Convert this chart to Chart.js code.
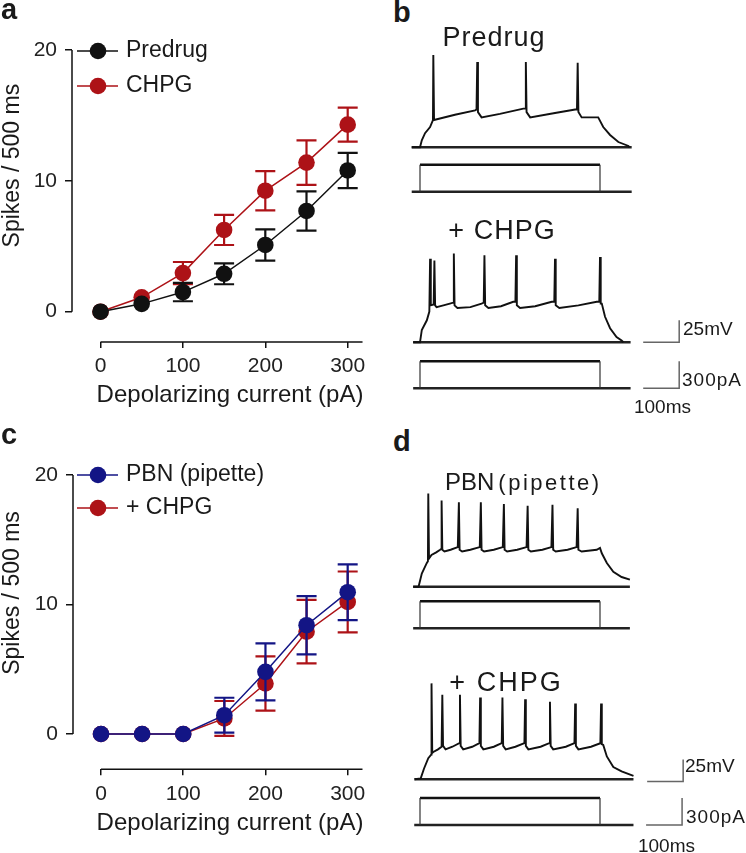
<!DOCTYPE html>
<html>
<head>
<meta charset="utf-8">
<script src="https://cdn.jsdelivr.net/npm/chart.js@4.4.1/dist/chart.umd.min.js"></script>
<style>
  body { margin: 0; background: #fff; width: 746px; height: 853px; position: relative; overflow: hidden;
         font-family: "Liberation Sans", Arial, sans-serif; color: #1a1a1a; }
  canvas { position: absolute; }
  .txt { position: absolute; white-space: nowrap; line-height: 1; }
</style>
</head>
<body>
<canvas id="graphA"></canvas>
<canvas id="graphC"></canvas>
<canvas id="b1v"></canvas><canvas id="b1i"></canvas>
<canvas id="b2v"></canvas><canvas id="b2i"></canvas>
<canvas id="d1v"></canvas><canvas id="d1i"></canvas>
<canvas id="d2v"></canvas><canvas id="d2i"></canvas>
<script>
// ---- F-I curves (mean +/- SEM) ----
const currents = [0, 50, 100, 150, 200, 250, 300];
const predrugMean = [0, 0.6, 1.5, 2.9, 5.1, 7.7, 10.8];
const predrugSem  = [0, 0, 0.7, 0.8, 1.2, 1.5, 1.35];
const chpgMean    = [0, 1.1, 2.95, 6.25, 9.25, 11.4, 14.3];
const chpgSem     = [0, 0, 0.85, 1.15, 1.5, 1.7, 1.3];

const pbnMean     = [0, 0, 0, 1.45, 4.8, 8.4, 10.95];
const pbnSem      = [0, 0, 0, 1.35, 2.2, 2.25, 2.15];
const pbnChpgMean = [0, 0, 0, 1.2, 3.9, 7.9, 10.2];
const pbnChpgSem  = [0, 0, 0, 1.35, 2.1, 2.45, 2.35];

const xTicks = [0, 100, 200, 300];
const yTicks = [0, 10, 20];
const xAxisEnd = 318;

// ---- example sweeps: [time ms, mV above rest] ----
const predrugTrace = [[-23,0],[0,0],[5,8],[14,16],[28,23],[36,31],[37,105],[39,31],[97,37],[153,42],[157,43],[159,97],[161,40],[171,34],
  [222,38],[287,44],[292,44],[294,97],[296,40],[306,34],[375,39],[431,43],[436,43],[438,96],[440,40],[449,34],[495,34],
  [509,23],[528,14],[551,6],[579,1.5],[582,0]];
const predrugChpgTrace = [[-19,0],[0,0],[5,14],[19,25],[26,35],[27,35],[28,95],[30,42],[38,43],[40,93],[42,42],[46,40],[65,42],[83,44],
  [92,45],[94,101],[96,42],[104,39],[140,40],[171,44],[177,45],[179,99],[181,42],[190,39],[225,41],[259,46],[265,46],[267,99],[269,42],
  [278,39],[320,41],[366,46],[373,46],[375,95],[377,42],[387,39],[440,42],[491,46],[498,46],[500,97],[502,44],[505,44],[514,29],
  [528,16],[546,6],[560,2],[565,0]];
const pbnTrace = [[-19,0],[-4,0],[5,15],[19,27],[22,29],[23,106],[25,32],[32,36],[45,39],[56,42],[59,43],[60,98],[62,42],[68,40],
  [85,42],[105,45],[108,96],[110,42],[117,40],[140,42],[166,45],[169,96],[171,42],[178,40],[205,42],[230,45],[233,94],[235,42],
  [242,40],[270,42],[296,45],[299,92],[301,42],[308,40],[340,42],[365,45],[368,93],[370,42],[377,40],[410,42],[435,45],[438,89],
  [440,42],[449,40],[491,42],[500,44],[505,38],[519,27],[537,17],[560,11],[583,8]];
const pbnChpgTrace = [[-14,0],[2,1],[11,12],[23,24],[31,28],[32,109],[34,30],[37,31],[50,34],[60,37],[62,96],[64,38],[71,34],[90,37],
  [109,41],[111,96],[113,38],[120,34],[145,37],[165,41],[167,93],[169,38],[176,34],[205,37],[227,41],[229,93],[231,38],[238,34],
  [265,37],[290,41],[292,91],[294,38],[301,34],[335,37],[359,41],[361,88],[363,38],[370,34],[405,37],[429,41],[431,86],[433,38],
  [440,34],[475,37],[501,41],[503,86],[505,40],[509,39],[519,26],[537,14],[560,9],[593,4]];

// sweep extents [start ms, end ms] for the rest lines
const sweepB1 = [-23, 588], sweepB2 = [-19, 585], sweepD1 = [-19, 583], sweepD2 = [-16, 593];
const stepOn = 0, stepOff = 500, stepPA = 300;
const barMs = 100, barMV = 25, barPA = 300;

Chart.defaults.font.family = "'Liberation Sans', Arial, sans-serif";
Chart.defaults.color = '#1a1a1a';

const errorBars = {
  id: 'errorBars',
  beforeDatasetDraw(chart, args) {
    const ds = chart.data.datasets[args.index];
    if (!ds.errors) return;
    const xs = chart.scales.x, ys = chart.scales.y, ctx = chart.ctx;
    ctx.save();
    ctx.strokeStyle = ds.borderColor;
    ctx.lineWidth = 2.2;
    ds.data.forEach((p, i) => {
      const e = ds.errors[i];
      if (!e) return;
      const px = xs.getPixelForValue(p.x);
      const top = ys.getPixelForValue(p.y + e);
      const bot = ys.getPixelForValue(p.y - e);
      ctx.beginPath();
      ctx.moveTo(px, top); ctx.lineTo(px, bot);
      ctx.moveTo(px - 10, top); ctx.lineTo(px + 10, top);
      ctx.moveTo(px - 10, bot); ctx.lineTo(px + 10, bot);
      ctx.stroke();
    });
    ctx.restore();
  }
};

const axisDecor = {
  id: 'axisDecor',
  afterDraw(chart, args, o) {
    const {ctx, chartArea, scales: {x, y}} = chart;
    ctx.save();
    ctx.strokeStyle = '#111';
    ctx.lineWidth = 1.5;
    ctx.beginPath();
    ctx.moveTo(chartArea.left, y.getPixelForValue(yTicks[0]));
    ctx.lineTo(chartArea.left, y.getPixelForValue(yTicks[yTicks.length - 1]));
    ctx.moveTo(x.getPixelForValue(xTicks[0]), chartArea.bottom);
    ctx.lineTo(x.getPixelForValue(xAxisEnd), chartArea.bottom);
    ctx.stroke();
    // axis titles
    ctx.fillStyle = '#1a1a1a';
    ctx.font = "24px 'Liberation Sans', Arial, sans-serif";
    ctx.textAlign = 'center';
    ctx.textBaseline = 'middle';
    ctx.fillText(o.xTitle, o.xTitlePos[0], o.xTitlePos[1]);
    ctx.font = "23px 'Liberation Sans', Arial, sans-serif";
    ctx.translate(o.yTitlePos[0], o.yTitlePos[1]);
    ctx.rotate(-Math.PI / 2);
    ctx.fillText(o.yTitle, 0, 0);
    ctx.restore();
    // legend
    chart.data.datasets.forEach((ds, i) => {
      const ly = o.legendRows[i];
      ctx.save();
      ctx.strokeStyle = ds.borderColor;
      ctx.lineWidth = 1.5;
      ctx.beginPath();
      ctx.moveTo(o.legendX, ly); ctx.lineTo(o.legendX + 41, ly);
      ctx.stroke();
      ctx.fillStyle = ds.backgroundColor;
      ctx.beginPath();
      ctx.arc(o.legendX + 21, ly, 8.3, 0, Math.PI * 2);
      ctx.fill();
      ctx.fillStyle = '#1a1a1a';
      ctx.font = "23px 'Liberation Sans', Arial, sans-serif";
      ctx.textBaseline = 'middle';
      ctx.fillText(ds.label, o.legendX + 49, ly);
      ctx.restore();
    });
  }
};

function series(label, means, sems, color) {
  return {
    label: label,
    data: currents.map((c, i) => ({x: c, y: means[i]})),
    errors: sems,
    borderColor: color,
    backgroundColor: color,
    borderWidth: 1.5,
    pointRadius: 8.3,
    pointBorderWidth: 0,
    tension: 0
  };
}

function makeGraph(id, g, datasets) {
  const c = document.getElementById(id);
  c.width = g.w; c.height = g.h;
  c.style.left = g.x + 'px'; c.style.top = g.y + 'px';
  new Chart(c, {
    type: 'line',
    data: { datasets: datasets },
    options: {
      responsive: false,
      animation: false,
      events: [],
      layout: { padding: { left: 0, top: g.top, right: g.w - g.right, bottom: 0 } },
      plugins: {
        legend: { display: false },
        tooltip: { enabled: false },
        axisDecor: {
          xTitle: 'Depolarizing current (pA)', xTitlePos: g.xTitlePos,
          yTitle: 'Spikes / 500 ms', yTitlePos: g.yTitlePos,
          legendX: 77, legendRows: g.legendRows
        }
      },
      scales: {
        x: {
          type: 'linear',
          min: (g.left - g.x0) / g.pxX,
          max: (g.right - g.x0) / g.pxX,
          afterBuildTicks: s => { s.ticks = xTicks.map(v => ({value: v})); },
          afterFit: s => { s.height = g.h - g.bottom; },
          border: { display: false },
          grid: { drawOnChartArea: false, tickLength: 6, color: '#111', lineWidth: 1.5 },
          ticks: { font: { size: 21 }, padding: 6, color: '#222', maxRotation: 0 }
        },
        y: {
          min: -(g.bottom - g.zero) / g.pxY,
          max: (g.zero - g.top) / g.pxY,
          afterBuildTicks: s => { s.ticks = yTicks.map(v => ({value: v})); },
          afterFit: s => { s.width = g.left; },
          border: { display: false },
          grid: { drawOnChartArea: false, tickLength: 7, color: '#111', lineWidth: 1.5 },
          ticks: { font: { size: 21 }, padding: 8, color: '#222' }
        }
      }
    },
    plugins: [errorBars, axisDecor]
  });
}

makeGraph('graphA', {
  x: 0, y: 0, w: 380, h: 420, left: 72, right: 366, top: 40, bottom: 342,
  zero: 311.7, pxY: 13.08, x0: 100.5, pxX: 0.824,
  xTitlePos: [230, 395], yTitlePos: [12.5, 165.6], legendRows: [51, 86]
}, [
  series('Predrug', predrugMean, predrugSem, '#111111'),
  series('CHPG', chpgMean, chpgSem, '#ad1217')
]);

makeGraph('graphC', {
  x: 0, y: 420, w: 380, h: 433, left: 73, right: 366, top: 40, bottom: 349.3,
  zero: 314, pxY: 12.95, x0: 101, pxX: 0.8223,
  xTitlePos: [230, 403], yTitlePos: [12.5, 173], legendRows: [55, 88]
}, [
  series('PBN (pipette)', pbnMean, pbnSem, '#131585'),
  series('+ CHPG', pbnChpgMean, pbnChpgSem, '#ad1217')
]);

// ---- sweep panels ----
const TRACE_LEFT = 400, TRACE_WIDTH = 346, STEP_ON_PX = 420, PX_PER_MS = 0.36;
const PX_PER_MV = 0.88, PX_PER_PA = 0.09;

function line(points, width, color) {
  return {
    data: points.map(p => ({x: p[0], y: p[1]})),
    borderColor: color || '#111',
    borderWidth: width,
    pointRadius: 0,
    tension: 0,
    fill: false,
    clip: false
  };
}

function makeTrace(id, top, height, zeroPx, pxPerUnit, datasets) {
  const c = document.getElementById(id);
  c.width = TRACE_WIDTH; c.height = height;
  c.style.left = TRACE_LEFT + 'px'; c.style.top = top + 'px';
  new Chart(c, {
    type: 'line',
    data: { datasets: datasets },
    options: {
      responsive: false, animation: false, events: [],
      layout: { padding: 0 },
      plugins: { legend: { display: false }, tooltip: { enabled: false } },
      scales: {
        x: { type: 'linear', display: false,
             min: (TRACE_LEFT - STEP_ON_PX) / PX_PER_MS,
             max: (TRACE_LEFT + TRACE_WIDTH - STEP_ON_PX) / PX_PER_MS },
        y: { display: false,
             min: -(top + height - zeroPx) / pxPerUnit,
             max: (zeroPx - top) / pxPerUnit }
      }
    }
  });
}

function rest(sweep) { return line([[sweep[0], 0], [sweep[1], 0]], 2.4, '#222'); }
function stepSets(sweep) {
  return [
    line([[stepOn, 0], [stepOn, stepPA]], 1.2, '#333'),
    line([[stepOff, stepPA], [stepOff, 0]], 1.2, '#333'),
    line([[stepOn, stepPA], [stepOff, stepPA]], 2.4, '#111'),
    rest(sweep)
  ];
}
function mvBar(x0, y0) { return line([[x0, y0], [x0 + barMs, y0], [x0 + barMs, y0 + barMV]], 1.5, '#666'); }
function paBar(x0, y0) { return line([[x0, y0], [x0 + barMs, y0], [x0 + barMs, y0 + barPA]], 1.5, '#666'); }

makeTrace('b1v', 40, 115, 147.3, PX_PER_MV, [line(predrugTrace, 1.9), rest(sweepB1)]);
makeTrace('b1i', 155, 42, 191.7, PX_PER_PA, stepSets(sweepB1));
makeTrace('b2v', 240, 110, 342.3, PX_PER_MV, [line(predrugChpgTrace, 1.9), rest(sweepB2), mvBar(620, 0)]);
makeTrace('b2i', 352, 42, 388.3, PX_PER_PA, stepSets(sweepB2).concat([paBar(620, 0)]));
makeTrace('d1v', 480, 112, 586.7, PX_PER_MV, [line(pbnTrace, 1.9), rest(sweepD1)]);
makeTrace('d1i', 594, 40, 628.3, PX_PER_PA, stepSets(sweepD1));
makeTrace('d2v', 672, 115, 779.3, PX_PER_MV, [line(pbnChpgTrace, 1.9), rest(sweepD2), mvBar(631, -2.5)]);
makeTrace('d2i', 789, 42, 825, PX_PER_PA, stepSets(sweepD2).concat([paBar(628, -1)]));

// ---- text labels ----
function label(text, x, baseline, size, opts) {
  opts = opts || {};
  const d = document.createElement('div');
  d.className = 'txt';
  d.innerHTML = text;
  d.style.fontSize = size + 'px';
  d.style.left = x + 'px';
  d.style.top = (baseline - 0.85 * size) + 'px';
  if (opts.bold) d.style.fontWeight = 'bold';
  if (opts.spacing) d.style.letterSpacing = opts.spacing + 'px';
  if (opts.center) d.style.transform = 'translateX(-50%)';
  document.body.appendChild(d);
}
label('a', 1, 20, 29, {bold: true});
label('b', 393, 23, 29, {bold: true});
label('c', 1, 445, 29, {bold: true});
label('d', 393, 451.7, 29, {bold: true});
label('Predrug', 494, 46.7, 27, {center: true, spacing: 1});
label('+ CHPG', 502, 240, 27, {center: true, spacing: 1});
label('PBN<span style="font-size:22px;letter-spacing:2.5px;margin-left:4px">(pipette)</span>', 445, 490, 24);
label('+ CHPG', 506, 691.7, 27, {center: true, spacing: 2});
label('25mV', 683, 335, 19);
label('300pA', 682, 386.5, 19, {spacing: 1});
label('100ms', 662.5, 413, 19, {center: true});
label('25mV', 685, 772, 19);
label('300pA', 686, 823.5, 19, {spacing: 1});
label('100ms', 666.5, 852.5, 19, {center: true});
</script>
</body>
</html>
